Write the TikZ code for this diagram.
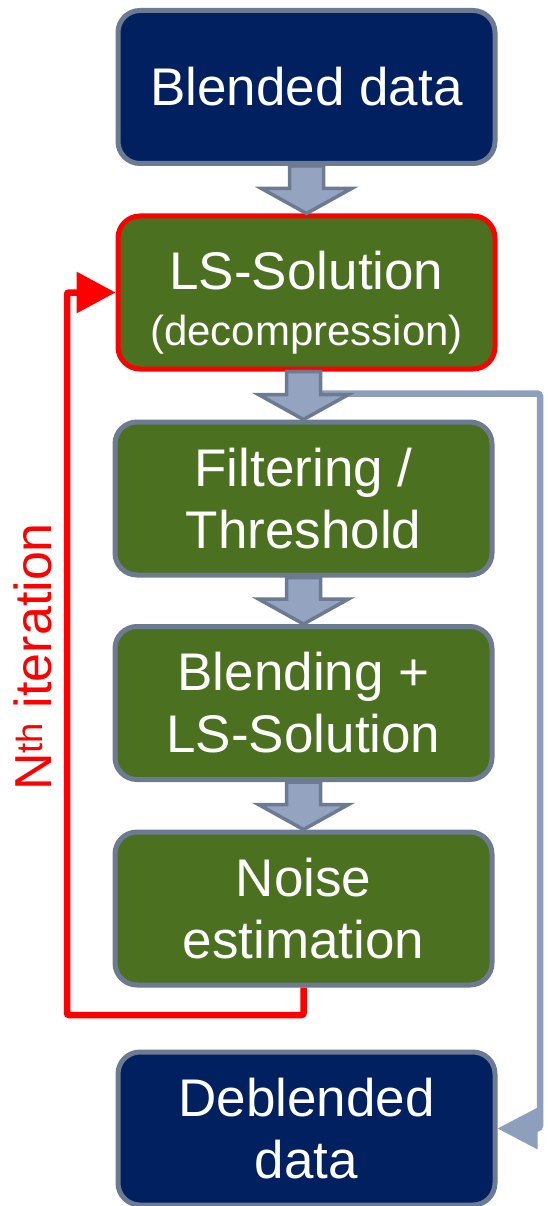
\documentclass[tikz,border=0pt]{standalone}
\usepackage{fontspec}
\setmainfont{Liberation Sans}
\usetikzlibrary{arrows.meta, calc, positioning}
\definecolor{flowNavy} {RGB}{  0, 32, 96}
\definecolor{flowGreen}{RGB}{ 75,112, 32}
\definecolor{flowEdge} {RGB}{108,122,146}
\definecolor{flowFill} {RGB}{148,163,192}
\definecolor{flowSkip} {RGB}{142,159,189}
\definecolor{flowRed}  {RGB}{255,  0,  0}
% fat block arrow from bottom of #1 to top of #2
\newcommand{\fatarrow}[2]{%
  \draw[flowarr] ($(#1.south -| #2.north)+(-17,0)$) -- ($(#2.north)+(-17,-25)$)
    -- ($(#2.north)+(-45,-25)$) -- (#2.north) -- ($(#2.north)+(45,-25)$)
    -- ($(#2.north)+(17,-25)$) -- ($(#1.south -| #2.north)+(17,0)$) -- cycle;}

\begin{document}
\begin{tikzpicture}[
  x=1pt, y=-1pt,
  box/.style={rectangle, rounded corners=22pt, minimum width=377pt,
    minimum height=153pt, align=center, text=white, line width=5pt,
    font=\fontsize{53}{62}\selectfont},
  navybox/.style={box, fill=flowNavy, draw=flowEdge},
  greenbox/.style={box, fill=flowGreen, draw=flowEdge},
  flowarr/.style={fill=flowFill, draw=flowEdge, line width=3.5pt, line join=miter},
  loopline/.style={draw=flowRed, line width=6.5pt, rounded corners=2pt,
    -{Triangle[length=39pt, width=40pt]}},
  skipline/.style={draw=flowSkip, line width=6.5pt, rounded corners=3pt,
    -{Triangle[length=40pt, width=40pt]}},
]
\useasboundingbox (0,0) rectangle (548,1206);

%% ── Boxes ──────────────────────────────────────────────────────────────────
\node[navybox]  (blend) at (306.5,  87.0) {Blended data};
\node[greenbox, draw=flowRed] (ls) at (306.5, 292.5)
  {\rule{0pt}{59pt}LS-Solution\\[-6pt]{\fontsize{42}{50}\selectfont (decompression)}};
\node[greenbox] (filt)  at (303.5, 498.5) {Filtering /\\Threshold};
\node[greenbox] (blnls) at (303.5, 703.0) {Blending +\\LS-Solution};
\node[greenbox] (noise) at (303.5, 908.5) {Noise\\estimation};
\node[navybox]  (deb)   at (306.5,1128.5) {Deblended\\data};

%% ── Skip connector (right side) ────────────────────────────────────────────
\coordinate (skipR) at (540,0);
\coordinate (skipS) at ($(ls.south -| filt.north)+(17,22)$);
\draw[skipline] (skipS) -- (skipR |- skipS) -- (skipR |- deb.east) -- (deb.east);

%% ── Block arrows ───────────────────────────────────────────────────────────
\fatarrow{blend}{ls}
\fatarrow{ls}{filt}
\fatarrow{filt}{blnls}
\fatarrow{blnls}{noise}

%% ── Iteration loop ─────────────────────────────────────────────────────────
\coordinate (loopL) at (67,1015);
\draw[loopline] (noise.south) |- (loopL) |- (ls.west);
\node[rotate=90, text=flowRed, font=\fontsize{52}{60}\selectfont]
  (iter) at (33,657) {N\textsuperscript{th} iteration};

\end{tikzpicture}
\end{document}
